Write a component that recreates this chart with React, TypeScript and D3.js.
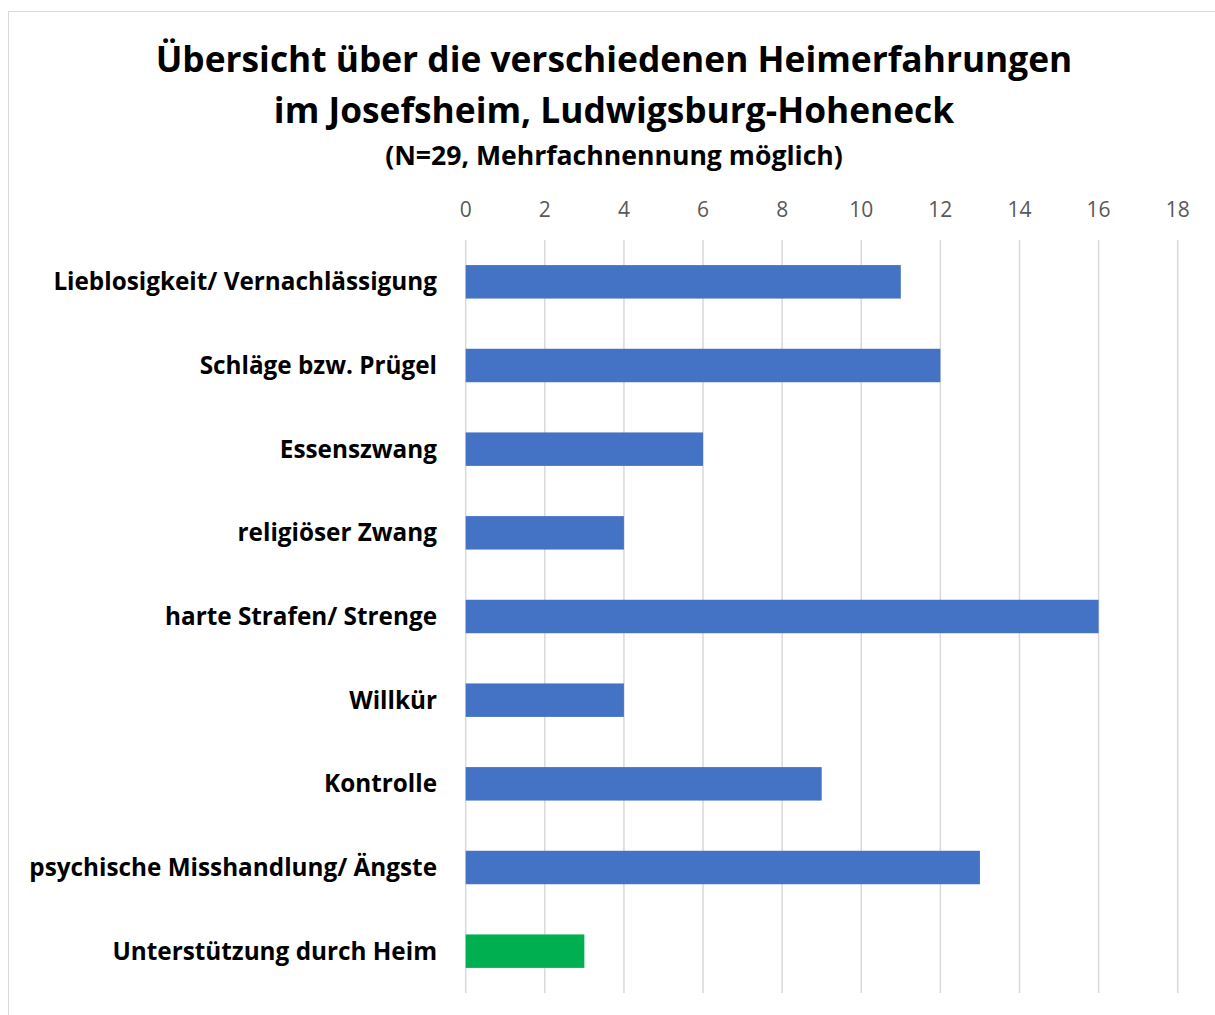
import React from "react";
import * as d3 from "d3";

const categories = [
  "Lieblosigkeit/ Vernachlässigung",
  "Schläge bzw. Prügel",
  "Essenszwang",
  "religiöser Zwang",
  "harte Strafen/ Strenge",
  "Willkür",
  "Kontrolle",
  "psychische Misshandlung/ Ängste",
  "Unterstützung durch Heim",
];
const values = [11, 12, 6, 4, 16, 4, 9, 13, 3];
const barColors = ["#4472C4", "#4472C4", "#4472C4", "#4472C4", "#4472C4", "#4472C4", "#4472C4", "#4472C4", "#00B050"];
const ticks = [0, 2, 4, 6, 8, 10, 12, 14, 16, 18];
const titleLines = ["Übersicht über die verschiedenen Heimerfahrungen", "im Josefsheim, Ludwigsburg-Hoheneck"];
const subtitle = "(N=29, Mehrfachnennung möglich)";

const W = 1215;
const H = 1015;
const FONT = "'Open Sans', Lato, sans-serif";

export default function App() {
  const x = d3.scaleLinear().domain([0, 18]).range([465.7, 1177.7]);
  const y = d3.scaleBand().domain(categories).range([240, 993]).paddingInner(0.6).paddingOuter(0.3);
  return (
    <svg width={W} height={H} style={{ position: "absolute", left: 0, top: 0 }} fontFamily={FONT}>
      <rect x={0} y={0} width={W} height={H} fill="#fff" />
      <rect x={8.5} y={11.5} width={1212} height={1010} fill="none" stroke="#D9D9D9" strokeWidth={1} />
      {titleLines.map((t, i) => (
        <text key={i} x={614} y={72 + i * 51} textAnchor="middle" fontSize={35.3} fontWeight="bold" fill="#000">
          {t}
        </text>
      ))}
      <text x={614} y={165} textAnchor="middle" fontSize={26.6} fontWeight="bold" fill="#000">
        {subtitle}
      </text>
      {ticks.map((t) => (
        <g key={t}>
          <line x1={x(t)} x2={x(t)} y1={240} y2={993} stroke="#D9D9D9" strokeWidth={1.5} />
          <text x={x(t)} y={217} textAnchor="middle" fontSize={21} fill="#595959">
            {t}
          </text>
        </g>
      ))}
      {categories.map((c, i) => (
        <g key={c}>
          <rect x={x(0)} y={y(c)!} width={x(values[i]) - x(0)} height={y.bandwidth()} fill={barColors[i]} />
          <text x={437} y={y(c)! + y.bandwidth() / 2} dy="0.35em" textAnchor="end" fontSize={24.3} fontWeight="bold" fill="#000">
            {c}
          </text>
        </g>
      ))}
    </svg>
  );
}
